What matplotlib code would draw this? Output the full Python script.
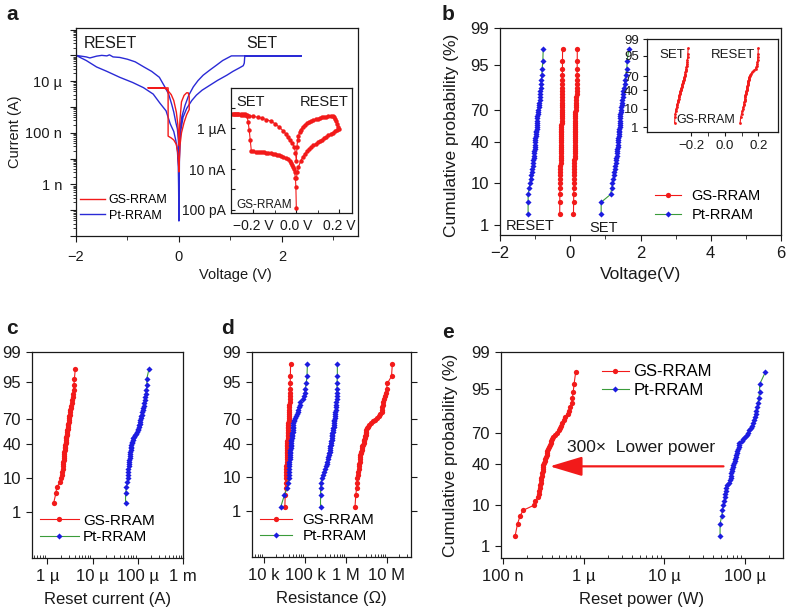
import matplotlib
matplotlib.use("Agg")
import matplotlib.pyplot as plt
from matplotlib.ticker import FixedLocator, NullFormatter, LogLocator
from statistics import NormalDist
import numpy as np

plt.rcParams['font.family'] = ['Liberation Sans', 'DejaVu Sans']

RED = '#f21a1a'
BLUE = '#1c1ce0'
LINE_BLUE = '#2a2ad6'
GREEN = '#3a9c3a'
INK = '#1a1a1a'

# ---------------- panel a: I-V sweeps (current as log10 A) ----------------
pt_iv_v = [0.0, 0.01, 0.03, 0.08, 0.15, 0.25, 0.34, 0.45, 0.6, 0.75, 0.93, 1.05, 1.18, 1.25, 1.27, 1.28,
           2.38, 1.02, 0.85, 0.73, 0.6, 0.47, 0.37, 0.28, 0.19, 0.12, 0.06, 0.03, 0.01, 0.0,
           -0.01, -0.03, -0.06, -0.1, -0.14, -0.2, -0.28, -0.38, -0.53, -0.68, -0.85, -1.0, -1.15, -1.28,
           -1.35, -1.4, -1.5, -1.6, -1.73, -1.8, -1.9, -2.0,
           -1.8, -1.6, -1.4, -1.15, -0.9, -0.69, -0.5, -0.37, -0.25, -0.17, -0.1, -0.06, -0.03, -0.01, 0.0]
pt_iv_logi = [-10.4, -8.0, -7.0, -6.4, -6.06, -5.75, -5.54, -5.35, -5.16, -4.97, -4.77, -4.62, -4.48, -4.40, -4.3, -4.02,
              -4.02, -4.02, -4.2, -4.38, -4.57, -4.77, -4.98, -5.22, -5.55, -5.93, -6.35, -6.7, -7.3, -10.4,
              -7.3, -6.85, -6.6, -6.2, -5.9, -5.5, -5.2, -4.85, -4.62, -4.45, -4.25, -4.15, -4.08, -4.06,
              -3.98, -4.02, -4.0, -4.03, -4.1, -4.06, -4.03, -4.0,
              -4.2, -4.45, -4.62, -4.85, -5.05, -5.25, -5.5, -5.85, -6.15, -6.65, -6.95, -7.3, -7.7, -8.3, -10.4]

gs_iv_v = [0.0, -0.02, -0.05, -0.1, -0.15, -0.21, -0.21, -0.6, -0.3, -0.25, -0.2, -0.15, -0.1, -0.05, -0.02, 0.0,
           0.02, 0.05, 0.1, 0.15, 0.18, 0.2, 0.2, 0.15, 0.1, 0.05, 0.02, 0.0]
gs_iv_logi = [-8.5, -7.8, -7.45, -7.28, -7.2, -7.13, -5.26, -5.26, -5.26, -5.3, -5.4, -5.52, -5.75, -6.2, -6.7, -7.5,
              -6.5, -5.8, -5.55, -5.45, -5.45, -5.6, -6.1, -6.3, -6.6, -7.0, -7.5, -8.5]

# inset of a: GS-RRAM sweep, branch by branch
ins_hrs_neg_v = [0.0, -0.002, -0.004, -0.008, -0.012, -0.016, -0.02, -0.025, -0.03, -0.04, -0.05, -0.06, -0.07,
                 -0.08, -0.09, -0.1, -0.11, -0.12, -0.13, -0.14, -0.15, -0.16, -0.17, -0.18, -0.19, -0.2, -0.21]
ins_hrs_neg_i = [-9.89, -8.9, -8.45, -8.15, -8.0, -7.9, -7.8, -7.7, -7.62, -7.52, -7.45, -7.4, -7.36,
                 -7.33, -7.3, -7.28, -7.26, -7.24, -7.22, -7.2, -7.19, -7.18, -7.17, -7.16, -7.15, -7.14, -7.12]
ins_set_v = [-0.215, -0.22, -0.225, -0.23, -0.24, -0.25, -0.26, -0.27, -0.28, -0.29, -0.3]
ins_set_i = [-6.6, -6.1, -5.7, -5.4, -5.33, -5.32, -5.31, -5.31, -5.3, -5.3, -5.3]
ins_lrs_neg_v = [-0.29, -0.28, -0.27, -0.26, -0.25, -0.24, -0.23, -0.22, -0.2, -0.18, -0.16, -0.14, -0.12,
                 -0.1, -0.08, -0.06, -0.05, -0.04, -0.03, -0.02, -0.01, -0.004, 0.0]
ins_lrs_neg_i = [-5.31, -5.32, -5.33, -5.34, -5.35, -5.36, -5.38, -5.40, -5.43, -5.47, -5.52, -5.58, -5.66,
                 -5.78, -5.95, -6.15, -6.27, -6.45, -6.6, -6.72, -6.9, -7.2, -7.6]
ins_lrs_pos_v = [0.003, 0.006, 0.01, 0.015, 0.02, 0.03, 0.04, 0.05, 0.06, 0.07, 0.08, 0.09, 0.1, 0.11, 0.12,
                 0.13, 0.14, 0.15, 0.16, 0.17, 0.175, 0.18, 0.185, 0.19, 0.195, 0.2]
ins_lrs_pos_i = [-6.9, -6.6, -6.4, -6.2, -6.08, -5.93, -5.83, -5.76, -5.7, -5.65, -5.61, -5.57, -5.54, -5.51, -5.48,
                 -5.46, -5.44, -5.43, -5.42, -5.43, -5.47, -5.55, -5.65, -5.8, -5.95, -6.02]
ins_hrs_pos_v = [0.19, 0.18, 0.17, 0.16, 0.15, 0.14, 0.13, 0.12, 0.11, 0.1, 0.09, 0.08, 0.07, 0.06, 0.05,
                 0.04, 0.03, 0.02, 0.01, 0.005, 0.0]
ins_hrs_pos_i = [-6.08, -6.15, -6.22, -6.29, -6.36, -6.43, -6.5, -6.57, -6.63, -6.7, -6.77, -6.85, -6.93, -7.02, -7.13,
                 -7.26, -7.42, -7.62, -7.9, -8.15, -8.45]

# ---------------- panel b: switching voltages (V), 50 cycles each ----------------
pt_reset_v = [-1.20, -1.20, -1.20, -1.17, -1.15, -1.13, -1.12, -1.10, -1.08, -1.07,
              -1.06, -1.05, -1.04, -1.03, -1.03, -1.02, -1.01, -1.01, -1.00, -1.00,
              -0.99, -0.99, -0.98, -0.98, -0.97, -0.97, -0.96, -0.96, -0.95, -0.95,
              -0.95, -0.94, -0.94, -0.93, -0.92, -0.91, -0.90, -0.89, -0.88, -0.87,
              -0.87, -0.86, -0.85, -0.84, -0.83, -0.82, -0.81, -0.80, -0.78, -0.77]
pt_set_v = [0.88, 0.88, 1.15, 1.18, 1.20, 1.22, 1.24, 1.25, 1.27, 1.28,
            1.29, 1.30, 1.31, 1.32, 1.33, 1.33, 1.34, 1.35, 1.35, 1.36,
            1.37, 1.37, 1.38, 1.38, 1.39, 1.39, 1.40, 1.41, 1.41, 1.42,
            1.42, 1.42, 1.43, 1.43, 1.44, 1.44, 1.45, 1.46, 1.47, 1.48,
            1.49, 1.50, 1.51, 1.53, 1.55, 1.56, 1.58, 1.61, 1.62, 1.67]
gs_set_v = [-0.300, -0.298, -0.296, -0.294, -0.290, -0.288, -0.285, -0.283, -0.281, -0.279,
            -0.277, -0.275, -0.274, -0.272, -0.271, -0.269, -0.268, -0.266, -0.265, -0.263,
            -0.262, -0.260, -0.259, -0.257, -0.256, -0.254, -0.253, -0.251, -0.250, -0.248,
            -0.247, -0.245, -0.244, -0.242, -0.241, -0.239, -0.238, -0.236, -0.235, -0.233,
            -0.232, -0.230, -0.229, -0.228, -0.226, -0.225, -0.224, -0.222, -0.221, -0.219]
gs_reset_v = [0.092, 0.095, 0.100, 0.104, 0.108, 0.111, 0.113, 0.115, 0.116, 0.118,
              0.119, 0.120, 0.121, 0.122, 0.123, 0.124, 0.125, 0.127, 0.128, 0.130,
              0.131, 0.132, 0.133, 0.134, 0.135, 0.136, 0.137, 0.138, 0.139, 0.140,
              0.141, 0.142, 0.144, 0.145, 0.147, 0.150, 0.153, 0.157, 0.163, 0.170,
              0.177, 0.184, 0.188, 0.191, 0.193, 0.195, 0.196, 0.197, 0.199, 0.200]

# ---------------- panel c: reset current, log10(A) ----------------
gs_reset_i = [-5.86, -5.81, -5.79, -5.71, -5.69, -5.68, -5.67, -5.66, -5.655, -5.65,
              -5.645, -5.64, -5.635, -5.63, -5.625, -5.62, -5.615, -5.61, -5.605, -5.60,
              -5.595, -5.59, -5.585, -5.58, -5.575, -5.57, -5.565, -5.56, -5.555, -5.55,
              -5.545, -5.54, -5.535, -5.53, -5.52, -5.515, -5.51, -5.50, -5.495, -5.49,
              -5.48, -5.47, -5.46, -5.45, -5.44, -5.43, -5.42, -5.41, -5.40, -5.38]
pt_reset_i = [-4.27, -4.27, -4.25, -4.23, -4.22, -4.22, -4.21, -4.21, -4.20, -4.20,
              -4.19, -4.19, -4.18, -4.18, -4.17, -4.17, -4.16, -4.16, -4.15, -4.14,
              -4.13, -4.12, -4.11, -4.10, -4.08, -4.05, -4.03, -4.01, -4.00, -3.99,
              -3.98, -3.97, -3.96, -3.95, -3.94, -3.93, -3.92, -3.91, -3.90, -3.89,
              -3.88, -3.87, -3.86, -3.85, -3.83, -3.82, -3.81, -3.80, -3.80, -3.75]

# ---------------- panel d: resistance, log10(ohm) ----------------
gs_lrs_r = [4.51, 4.52, 4.53, 4.535, 4.54, 4.545, 4.545, 4.55, 4.55, 4.555,
            4.555, 4.56, 4.56, 4.56, 4.565, 4.565, 4.57, 4.57, 4.57, 4.575,
            4.575, 4.575, 4.58, 4.58, 4.58, 4.585, 4.585, 4.585, 4.59, 4.59,
            4.59, 4.595, 4.595, 4.60, 4.60, 4.60, 4.605, 4.61, 4.61, 4.615,
            4.62, 4.62, 4.625, 4.63, 4.63, 4.635, 4.64, 4.64, 4.645, 4.65]
pt_lrs_r = [4.41, 4.50, 4.57, 4.59, 4.60, 4.60, 4.61, 4.61, 4.62, 4.62,
            4.62, 4.63, 4.63, 4.63, 4.63, 4.64, 4.64, 4.65, 4.65, 4.66,
            4.66, 4.67, 4.67, 4.68, 4.68, 4.69, 4.69, 4.70, 4.70, 4.70,
            4.71, 4.71, 4.72, 4.73, 4.74, 4.76, 4.78, 4.80, 4.82, 4.84,
            4.86, 4.87, 4.89, 4.95, 4.98, 5.00, 5.01, 5.03, 5.05, 5.06]
pt_hrs_r = [5.38, 5.38, 5.38, 5.39, 5.41, 5.44, 5.47, 5.50, 5.52, 5.53,
            5.55, 5.56, 5.57, 5.58, 5.59, 5.60, 5.61, 5.61, 5.62, 5.63,
            5.63, 5.64, 5.65, 5.65, 5.66, 5.67, 5.67, 5.68, 5.69, 5.69,
            5.70, 5.70, 5.71, 5.72, 5.72, 5.73, 5.73, 5.74, 5.74, 5.75,
            5.75, 5.76, 5.76, 5.77, 5.77, 5.77, 5.78, 5.78, 5.79, 5.79]
gs_hrs_r = [6.22, 6.24, 6.26, 6.27, 6.28, 6.29, 6.30, 6.31, 6.31, 6.32,
            6.33, 6.33, 6.34, 6.35, 6.36, 6.37, 6.38, 6.39, 6.40, 6.42,
            6.43, 6.44, 6.45, 6.46, 6.47, 6.48, 6.49, 6.50, 6.50, 6.52,
            6.54, 6.57, 6.61, 6.66, 6.70, 6.76, 6.80, 6.84, 6.87, 6.88,
            6.89, 6.90, 6.91, 6.93, 6.95, 6.97, 6.99, 7.01, 7.11, 7.13]

# ---------------- panel e: reset power, log10(W) ----------------
gs_reset_p = [-6.85, -6.82, -6.79, -6.75, -6.62, -6.60, -6.57, -6.56, -6.55, -6.545,
              -6.54, -6.535, -6.53, -6.525, -6.52, -6.515, -6.51, -6.505, -6.50, -6.50,
              -6.49, -6.48, -6.475, -6.47, -6.46, -6.455, -6.45, -6.44, -6.43, -6.42,
              -6.41, -6.40, -6.39, -6.38, -6.36, -6.33, -6.30, -6.29, -6.28, -6.27,
              -6.25, -6.23, -6.20, -6.18, -6.17, -6.15, -6.14, -6.13, -6.12, -6.10]
pt_reset_p = [-4.31, -4.31, -4.29, -4.28, -4.27, -4.26, -4.25, -4.25, -4.24, -4.24,
              -4.23, -4.20, -4.19, -4.18, -4.18, -4.17, -4.16, -4.16, -4.15, -4.15,
              -4.14, -4.13, -4.12, -4.11, -4.11, -4.10, -4.10, -4.09, -4.08, -4.08,
              -4.07, -4.04, -4.02, -4.00, -3.98, -3.96, -3.95, -3.93, -3.91, -3.90,
              -3.89, -3.88, -3.87, -3.86, -3.85, -3.84, -3.83, -3.82, -3.82, -3.75]

prob_labels = ['1', '10', '40', '70', '95', '99']
prob_levels = [0.01, 0.10, 0.40, 0.70, 0.95, 0.995]  # top tick sits on the upper edge

W, H = 788, 613
fig = plt.figure(figsize=(W / 100, H / 100), dpi=100)
nd = NormalDist()


def px_axes(l, t, r, b):
    return fig.add_axes([l / W, 1 - b / H, (r - l) / W, (b - t) / H])


def probit(vals, a=0.0):
    # sorted samples -> normal quantile of rank based cumulative probability
    n = len(vals)
    i = np.arange(1, n + 1)
    p = (i - a) / (n + 1 - 2 * a)
    return np.sort(np.asarray(vals)), np.array([nd.inv_cdf(q) for q in p])


def style(ax, fs):
    for s in ax.spines.values():
        s.set_linewidth(0.9)
        s.set_color(INK)
    ax.tick_params(which='major', direction='out', length=4, width=0.8,
                   labelsize=fs, pad=4, colors=INK)
    ax.tick_params(which='minor', direction='in', length=2.5, width=0.6, colors=INK)


def prob_axis(ax, fs, left=True):
    ax.yaxis.set_major_locator(FixedLocator([nd.inv_cdf(p) for p in prob_levels]))
    ax.set_yticklabels(prob_labels if left else [])
    ax.tick_params(axis='y', labelsize=fs)


def log_ticks(axis, decades, labels):
    axis.set_major_locator(FixedLocator([10.0 ** d for d in decades]))
    axis.set_ticklabels(labels)
    axis.set_minor_locator(LogLocator(base=10, subs=np.arange(2, 10), numticks=30))
    axis.set_minor_formatter(NullFormatter())


def cdf_plot(ax, vals, color, lcolor, marker, ms, label=None, a=0.0, log=False):
    x, z = probit(vals, a)
    if log:
        x = 10.0 ** x
    ax.plot(x, z, color=lcolor, lw=0.8, marker=marker, ms=ms, mfc=color, mec=color,
            mew=0, label=label)


# ================= panel a =================
axa = px_axes(76, 28, 358, 236)
style(axa, 10.5)
axa.plot(pt_iv_v, 10.0 ** np.array(pt_iv_logi), color=LINE_BLUE, lw=1.0, label='Pt-RRAM', zorder=2)
axa.plot(gs_iv_v, 10.0 ** np.array(gs_iv_logi), color=RED, lw=1.0, label='GS-RRAM', zorder=3)
axa.set_yscale('log')
axa.set_xlim(-2, 3.48)
axa.set_ylim(1e-11, 1.15e-3)
dec = list(range(-11, -2))
lab = {-5: '10 µ', -7: '100 n', -9: '1 n'}
log_ticks(axa.yaxis, dec, [lab.get(d, '') for d in dec])
axa.tick_params(axis='y', which='minor', direction='out', length=2)
axa.set_xticks([-2, 0, 2])
axa.set_xticks([-1, 1, 3], minor=True)
axa.tick_params(axis='x', which='minor', direction='out', length=3)
axa.tick_params(axis='both', which='major', pad=6)
axa.set_xlabel('Voltage (V)', fontsize=10.5, color=INK)
axa.xaxis.set_label_coords(0.564, -0.155)
axa.set_ylabel('Current (A)', fontsize=10.5, color=INK)
axa.yaxis.set_label_coords(-0.19, 0.5)
h, l = axa.get_legend_handles_labels()
axa.legend(h[::-1], l[::-1], loc='upper left', bbox_to_anchor=(0.014, 0.20), frameon=False,
           fontsize=9, borderpad=0, borderaxespad=0, handlelength=2.0, handletextpad=0.3,
           labelspacing=0.25)
axa.text(-1.34, 10 ** -3.53, 'RESET', fontsize=11.5, ha='center', va='center', color=INK)
axa.text(1.61, 10 ** -3.53, 'SET', fontsize=11.5, ha='center', va='center', color=INK)

axi = px_axes(231, 88, 352, 213)
axi.set_zorder(5)
axi.set_facecolor('white')
style(axi, 10)
ins_v = ins_hrs_neg_v + ins_set_v + ins_lrs_neg_v + ins_lrs_pos_v + ins_hrs_pos_v
ins_i = ins_hrs_neg_i + ins_set_i + ins_lrs_neg_i + ins_lrs_pos_i + ins_hrs_pos_i
axi.plot(ins_v, 10.0 ** np.array(ins_i), color=RED, lw=0.8, marker='o', ms=3.2, mew=0)
axi.set_yscale('log')
axi.set_xlim(-0.305, 0.26)
axi.set_ylim(10 ** -10.15, 10 ** -4.04)
idec = list(range(-10, -4))
ilab = {-6: '1 µA', -8: '10 nA', -10: '100 pA'}
axi.yaxis.set_major_locator(FixedLocator([10.0 ** d for d in idec]))
axi.set_yticklabels([ilab.get(d, '') for d in idec])
axi.yaxis.set_minor_locator(FixedLocator([]))
axi.set_xticks([-0.2, 0.0, 0.2])
axi.set_xticklabels(['\u22120.2 V', '0.0 V', '0.2 V'])
axi.set_xticks([-0.1, 0.1], minor=True)
axi.tick_params(axis='both', which='major', direction='in', length=3, pad=4)
axi.tick_params(axis='x', which='minor', direction='in', length=2)
axi.text(0.165, 0.89, 'SET', transform=axi.transAxes, fontsize=10.5, ha='center', va='center', color=INK)
axi.text(0.77, 0.89, 'RESET', transform=axi.transAxes, fontsize=10.5, ha='center', va='center', color=INK)
axi.text(0.045, 0.065, 'GS-RRAM', transform=axi.transAxes, fontsize=8.5, ha='left', va='center', color=INK)

# ================= panel b =================
axb = px_axes(500, 28, 781, 235)
style(axb, 12)
cdf_plot(axb, gs_set_v, RED, RED, 'o', 3.8, 'GS-RRAM')
cdf_plot(axb, gs_reset_v, RED, RED, 'o', 3.8)
cdf_plot(axb, pt_reset_v, BLUE, GREEN, 'D', 3.1, 'Pt-RRAM')
cdf_plot(axb, pt_set_v, BLUE, GREEN, 'D', 3.1)
axb.set_xlim(-2, 6)
axb.set_ylim(-2.576, 2.576)
axb.set_xticks([-2, 0, 2, 4, 6])
axb.set_xticks([-1, 1, 3, 5], minor=True)
axb.tick_params(axis='x', which='minor', direction='out', length=3)
prob_axis(axb, 12)
axb.set_xlabel('Voltage(V)', fontsize=12.5, color=INK)
axb.xaxis.set_label_coords(0.5, -0.155)
axb.set_ylabel('Cumulative probability (%)', fontsize=12.5, color=INK)
axb.yaxis.set_label_coords(-0.147, 0.48)
axb.legend(loc='upper left', bbox_to_anchor=(0.551, 0.22), frameon=False, fontsize=10.5,
           borderpad=0, borderaxespad=0, handlelength=1.8, handletextpad=0.7, labelspacing=0.3)
axb.text(-1.13, -2.35, 'RESET', fontsize=10.5, ha='center', va='center', color=INK)
axb.text(0.96, -2.40, 'SET', fontsize=10.5, ha='center', va='center', color=INK)

axbi = px_axes(647, 39, 778, 132)
axbi.set_zorder(5)
axbi.set_facecolor('white')
style(axbi, 9.5)
cdf_plot(axbi, gs_set_v, RED, RED, 'o', 2)
cdf_plot(axbi, gs_reset_v, RED, RED, 'o', 2)
axbi.set_xlim(-0.465, 0.318)
axbi.set_ylim(-2.576, 2.576)
prob_axis(axbi, 9.5)
axbi.set_xticks([-0.2, 0.0, 0.2])
axbi.set_xticklabels(['\u22120.2', '0.0', '0.2'])
axbi.set_xticks([-0.1, 0.1], minor=True)
axbi.tick_params(axis='x', which='minor', direction='out', length=3)
axbi.tick_params(axis='both', which='major', length=3, pad=3)
axbi.text(0.195, 0.83, 'SET', transform=axbi.transAxes, fontsize=9.5, ha='center', va='center', color=INK)
axbi.text(0.654, 0.83, 'RESET', transform=axbi.transAxes, fontsize=9.5, ha='center', va='center', color=INK)
axbi.text(0.45, 0.13, 'GS-RRAM', transform=axbi.transAxes, fontsize=9, ha='center', va='center', color=INK)

# ================= panel c =================
axc = px_axes(32, 352, 183, 558)
style(axc, 12)
cdf_plot(axc, gs_reset_i, RED, RED, 'o', 3.8, 'GS-RRAM', log=True)
cdf_plot(axc, pt_reset_i, BLUE, GREEN, 'D', 3.1, 'Pt-RRAM', log=True)
axc.set_xscale('log')
axc.set_xlim(4.6e-7, 1.0e-3)
axc.set_ylim(-3.74, 2.576)
log_ticks(axc.xaxis, [-6, -5, -4, -3], ['1 µ', '10 µ', '100 µ', '1 m'])
prob_axis(axc, 12)
axc.set_xlabel('Reset current (A)', fontsize=12, color=INK)
axc.xaxis.set_label_coords(0.5, -0.165)
axc.legend(loc='upper left', bbox_to_anchor=(0.05, 0.215), frameon=False, fontsize=11,
           borderpad=0, borderaxespad=0, handlelength=2.6, handletextpad=0.25, labelspacing=0.15)

# ================= panel d =================
axd = px_axes(252, 352, 411, 557)
style(axd, 12)
cdf_plot(axd, gs_lrs_r, RED, RED, 'o', 3.8, 'GS-RRAM', a=0.3, log=True)
cdf_plot(axd, pt_lrs_r, BLUE, GREEN, 'D', 3.1, 'Pt-RRAM', a=0.3, log=True)
cdf_plot(axd, pt_hrs_r, BLUE, GREEN, 'D', 3.1, a=0.3, log=True)
cdf_plot(axd, gs_hrs_r, RED, RED, 'o', 3.8, a=0.3, log=True)
axd.set_xscale('log')
axd.set_xlim(10 ** 3.71, 10 ** 7.585)
axd.set_ylim(-3.74, 2.576)
log_ticks(axd.xaxis, [4, 5, 6, 7], ['10 k', '100 k', '1 M', '10 M'])
prob_axis(axd, 12)
axd.tick_params(axis='y', which='major', right=True, labelright=False)
axd.set_xlabel('Resistance (\u03a9)', fontsize=12, color=INK)
axd.xaxis.set_label_coords(0.5, -0.165)
axd.legend(loc='upper left', bbox_to_anchor=(0.05, 0.215), frameon=False, fontsize=11,
           borderpad=0, borderaxespad=0, handlelength=2.1, handletextpad=0.7, labelspacing=0.15)

# ================= panel e =================
axe = px_axes(501, 352, 783, 558)
style(axe, 12)
cdf_plot(axe, gs_reset_p, RED, RED, 'o', 3.8, 'GS-RRAM', log=True)
cdf_plot(axe, pt_reset_p, BLUE, GREEN, 'D', 3.1, 'Pt-RRAM', log=True)
axe.set_xscale('log')
axe.set_xlim(10 ** -7.025, 10 ** -3.53)
axe.set_ylim(-2.62, 2.576)
log_ticks(axe.xaxis, [-7, -6, -5, -4], ['100 n', '1 µ', '10 µ', '100 µ'])
prob_axis(axe, 12)
axe.set_xlabel('Reset power (W)', fontsize=12, color=INK)
axe.xaxis.set_label_coords(0.5, -0.165)
axe.set_ylabel('Cumulative probability (%)', fontsize=12.5, color=INK)
axe.yaxis.set_label_coords(-0.152, 0.5)
axe.legend(loc='upper left', bbox_to_anchor=(0.358, 0.94), frameon=False, fontsize=12,
           borderpad=0, borderaxespad=0, handlelength=1.6, handletextpad=0.3, labelspacing=0.2)
z_arrow = nd.inv_cdf(0.379)
axe.annotate('', xy=(3.8e-7, z_arrow), xytext=(5.4e-5, z_arrow),
             arrowprops=dict(arrowstyle='-|>,head_length=1.0,head_width=0.3', color=RED,
                             lw=1.6, mutation_scale=20, shrinkA=0, shrinkB=0))
axe.text(5.2e-6, 0.17, '300\u00d7  Lower power', fontsize=12.5, ha='center', va='center', color=INK)

# panel letters
for letter, x, y in [('a', 12, 15), ('b', 448, 15), ('c', 12, 328), ('d', 228, 328), ('e', 448, 332)]:
    fig.text(x / W, 1 - y / H, letter, fontsize=15, fontweight='bold', ha='center', va='center', color=INK)

fig.savefig('out.png', dpi=100)
